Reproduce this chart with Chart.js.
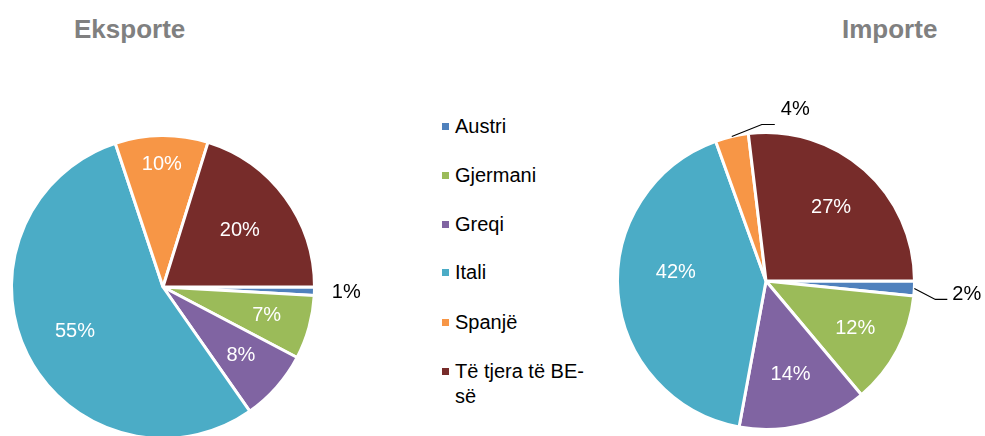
<!DOCTYPE html>
<html>
<head>
<meta charset="utf-8">
<script src="https://cdn.jsdelivr.net/npm/chart.js@4"></script>
<style>
  html, body { margin: 0; padding: 0; background: #fff; }
  body { width: 985px; height: 436px; overflow: hidden; position: relative; font-family: Arial, "Liberation Sans", sans-serif; }
  canvas { position: absolute; }
  .title { position: absolute; font-weight: bold; font-size: 26px; line-height: 30px; color: #808080; }
  .legend-item { position: absolute; left: 442px; display: flex; align-items: flex-start; font-size: 20px; line-height: 25px; color: #000; }
  .legend-item .box { width: 7px; height: 7px; margin-top: 9px; margin-right: 6px; flex: none; }
  .legend-item .txt { width: 140px; }
</style>
</head>
<body>
<div class="title" style="left:74px; top:14px;">Eksporte</div>
<div class="title" style="left:842px; top:14px;">Importe</div>
<div id="legend"></div>
<canvas id="exportChart" width="430" height="445" style="left:0; top:0;"></canvas>
<canvas id="importChart" width="385" height="436" style="left:600px; top:0;"></canvas>
<script>
// categories and values (percent shares)
const categories = ["Austri", "Gjermani", "Greqi", "Itali", "Spanjë", "Të tjera të BE-së"];
const exportValues = [0.9, 6.8, 7.6, 54.6, 9.9, 20.2];
const importValues = [1.6, 12.3, 14.0, 41.6, 3.6, 26.9];
const colors = ["#4F81BD", "#9BBB59", "#8064A2", "#4BACC6", "#F79646", "#772C2A"];

// label placement per slice: fraction of radius, angle shift (deg), optional leader
const exportLabelStyle = [
  { r: 1.21, color: "#000" },
  { r: 0.71 },
  { r: 0.685 },
  { r: 0.65 },
  { r: 0.81 },
  { r: 0.63 },
];
const importLabelStyle = [
  { leader: [[21, 11], [33, 11]], text: [5, -5], color: "#000" },
  { r: 0.68 },
  { r: 0.65 },
  { r: 0.61, a: 10 },
  { leader: [[30, -12], [43, -12]], text: [6, -15], color: "#000" },
  { r: 0.66 },
];

// legend
const legendEl = document.getElementById("legend");
const legendTops = [114, 163, 212, 260, 310, 359];
categories.forEach(function (c, i) {
  const item = document.createElement("div");
  item.className = "legend-item";
  item.style.top = legendTops[i] + "px";
  item.innerHTML = '<span class="box" style="background:' + colors[i] + '"></span><span class="txt"></span>';
  item.querySelector(".txt").textContent = c;
  legendEl.appendChild(item);
});

const pieLabels = {
  id: "pieLabels",
  afterDatasetsDraw(chart, args, opts) {
    const ctx = chart.ctx;
    const meta = chart.getDatasetMeta(0);
    const values = chart.data.datasets[0].data;
    ctx.save();
    ctx.font = "20px Arial, 'Liberation Sans', sans-serif";
    meta.data.forEach(function (arc, i) {
      const p = arc.getProps(["x", "y", "startAngle", "endAngle", "outerRadius"], true);
      const st = opts.styles[i] || {};
      const mid = (p.startAngle + p.endAngle) / 2 + ((st.a || 0) * Math.PI) / 180;
      const text = Math.round(values[i]) + "%";
      ctx.fillStyle = st.color || "#fff";
      if (st.leader) {
        const sx = p.x + Math.cos(mid) * p.outerRadius;
        const sy = p.y + Math.sin(mid) * p.outerRadius;
        ctx.strokeStyle = "#000";
        ctx.lineWidth = 1.2;
        ctx.beginPath();
        ctx.moveTo(sx, sy);
        st.leader.forEach(function (pt) { ctx.lineTo(sx + pt[0], sy + pt[1]); });
        ctx.stroke();
        const end = st.leader[st.leader.length - 1];
        ctx.textAlign = "left";
        ctx.textBaseline = "middle";
        ctx.fillText(text, sx + end[0] + st.text[0], sy + end[1] + st.text[1]);
      } else {
        const rr = p.outerRadius * st.r;
        ctx.textAlign = "center";
        ctx.textBaseline = "middle";
        ctx.fillText(text, p.x + Math.cos(mid) * rr, p.y + Math.sin(mid) * rr);
      }
    });
    ctx.restore();
  },
};

function makePie(id, values, padding, styles) {
  const ctx = document.getElementById(id).getContext("2d");
  return new Chart(ctx, {
    type: "pie",
    data: {
      labels: categories,
      datasets: [
        {
          data: values,
          backgroundColor: colors,
          borderColor: "#fff",
          borderWidth: 3,
        },
      ],
    },
    options: {
      responsive: false,
      animation: false,
      rotation: 90,
      layout: { padding: padding },
      plugins: {
        legend: { display: false },
        tooltip: { enabled: false },
        pieLabels: { styles: styles },
      },
    },
    plugins: [pieLabels],
  });
}

makePie("exportChart", exportValues, { left: 10, top: 134, right: 114, bottom: 5 }, exportLabelStyle);
makePie("importChart", importValues, { left: 16, top: 131, right: 69, bottom: 5 }, importLabelStyle);
</script>
</body>
</html>
